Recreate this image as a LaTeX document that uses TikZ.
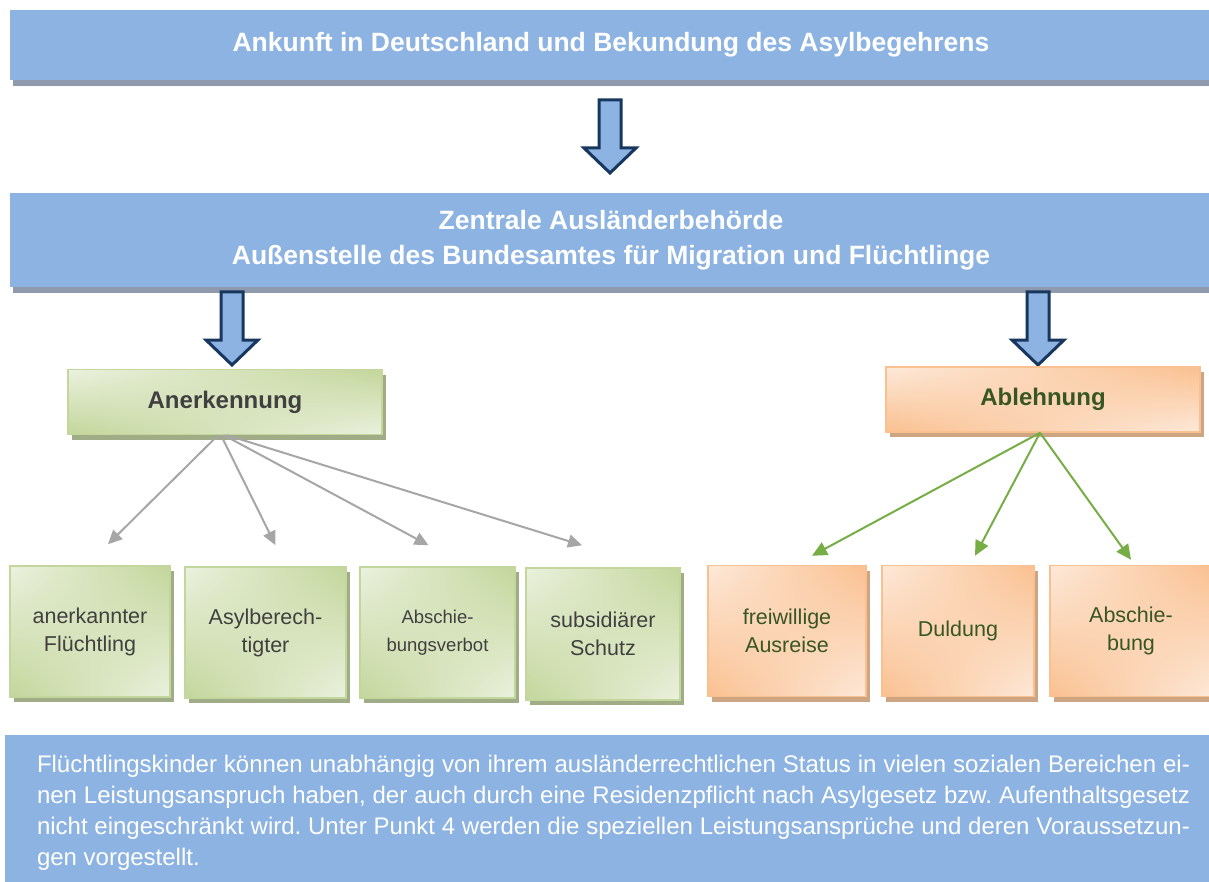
\documentclass[tikz,border=0pt]{standalone}
\usepackage{fontspec}
\setmainfont{Liberation Sans}
\usepackage{tikz}
\usetikzlibrary{arrows.meta, positioning, calc, shadows, shadings}
\definecolor{stageblue}{RGB}{141, 179, 226}
\definecolor{stageshadow}{RGB}{143, 155, 172}
\definecolor{arrownavy}{RGB}{23, 55, 94}
\definecolor{greenlight}{RGB}{235, 241, 222}
\definecolor{greendark}{RGB}{195, 214, 155}
\definecolor{greenshadow}{RGB}{160, 172, 134}
\definecolor{orangelight}{RGB}{253, 233, 217}
\definecolor{orangedark}{RGB}{250, 192, 144}
\definecolor{orangeshadow}{RGB}{205, 165, 130}
\definecolor{linkgray}{RGB}{166, 166, 166}
\definecolor{linkgreen}{RGB}{119, 173, 69}
\definecolor{textgreen}{RGB}{55, 86, 35}
\definecolor{textgray}{RGB}{64, 64, 64}
\frenchspacing

\begin{document}
\begin{tikzpicture}[
    x=1pt, y=-1pt,
    stage/.style={rectangle, fill=stageblue, text=white, font=\bfseries\fontsize{26.5}{35}\selectfont,
        align=center, inner sep=0pt,
        general shadow={fill=stageshadow, shadow xshift=3pt, shadow yshift=-6pt}},
    greenbox/.style={rectangle, draw=greendark, line width=1.5pt, inner sep=2pt, align=center,
        upper left=greenlight, upper right=greendark, lower left=greendark, lower right=greenlight,
        text=textgray, general shadow={fill=greenshadow, shadow xshift=4pt, shadow yshift=-5pt}},
    orangebox/.style={rectangle, draw=orangedark, line width=1.5pt, inner sep=2pt, align=center,
        upper left=orangelight, upper right=orangedark, lower left=orangedark, lower right=orangelight,
        text=textgreen, general shadow={fill=orangeshadow, shadow xshift=4pt, shadow yshift=-5pt}},
    decision/.style={minimum width=314pt, minimum height=65pt, font=\bfseries\fontsize{24}{28}\selectfont},
    outcome/.style={minimum height=131pt, font=\fontsize{21.5}{28}\selectfont},
    graylink/.style={draw=linkgray, line width=2pt, -{Triangle[length=14pt, width=13pt]}},
    greenlink/.style={draw=linkgreen, line width=2pt, -{Triangle[length=15pt, width=14pt]}},
    blockarrow/.pic={
        \draw[arrownavy, fill=stageblue, line width=3pt, miter limit=10]
            (-11,0) -- (11,0) -- (11,48) -- (26,48) -- (0,73) -- (-26,48) -- (-11,48) -- cycle;
    }
]
\useasboundingbox (0,0) rectangle (1209,882);

% stages
\node[stage, minimum width=1202pt, minimum height=70pt] (arrival) at (611,45)
    {Ankunft in Deutschland und Bekundung des Asylbegehrens};
\node[stage, minimum width=1202pt, minimum height=94pt] (office) at (611,240)
    {Zentrale Ausländerbehörde\\Außenstelle des Bundesamtes für Migration und Flüchtlinge};

\pic at (610,100) {blockarrow};
\pic at (232,292) {blockarrow};
\pic at (1038,292) {blockarrow};

% decisions
\node[greenbox, decision] (anerk) at (225,402) {Anerkennung};
\node[orangebox, decision] (ableh) at (1043,399.5) {Ablehnung};

% outcomes
\node[greenbox, outcome, minimum width=160pt] (fluecht) at (90,631.5) {anerkannter\\Flüchtling};
\node[greenbox, outcome, minimum width=161pt] (asyl) at (265.5,632.5) {Asylberech-\\tigter};
\node[greenbox, outcome, minimum width=155pt, font=\fontsize{18.5}{28}\selectfont] (verbot) at (437.5,632.5) {Abschie-\\bungsverbot};
\node[greenbox, outcome, minimum width=154pt, minimum height=132pt] (subsid) at (603,634) {subsidiärer\\Schutz};
\node[orangebox, outcome, minimum width=158pt] (ausreise) at (787,631) {freiwillige\\Ausreise};
\node[orangebox, outcome, minimum width=152pt] (duldung) at (958,631) {Duldung};
\node[orangebox, outcome, minimum width=162pt] (abschieb) at (1131,631) {Abschie-\\bung};

\draw[graylink] ($(anerk.south)+(-7,0)$) -- ($(fluecht.north)+(18,-21)$);
\draw[graylink] ($(anerk.south)+(-4,0)$) -- ($(asyl.north)+(10,-21)$);
\draw[graylink] ($(anerk.south)+(-1,0)$) -- ($(verbot.north)+(-9,-21)$);
\draw[graylink] ($(anerk.south)+(2,0)$) -- ($(subsid.north)+(-21,-22)$);

\draw[greenlink] ($(ableh.south)+(-3,0)$) -- ($(ausreise.north)+(25,-9)$);
\draw[greenlink] ($(ableh.south)+(-3,0)$) -- ($(duldung.north)+(17,-9)$);
\draw[greenlink] ($(ableh.south)+(-3,0)$) -- ($(abschieb.north)+(0,-5)$);

% note
\node[rectangle, fill=stageblue, minimum width=1206pt, minimum height=147pt, inner sep=0pt] (note) at (608,808.5) {};
\node[text=white, text width=1153pt, align=justify, inner sep=0pt, font=\fontsize{24}{31}\selectfont]
    (notetext) at (613.5,812.5) {Flüchtlingskinder können unabhängig von ihrem ausländerrechtlichen Status in vielen sozialen Bereichen ei-\linebreak nen Leistungsanspruch haben, der auch durch eine Residenzpflicht nach Asylgesetz bzw. Aufenthaltsgesetz\linebreak nicht eingeschränkt wird. Unter Punkt 4 werden die speziellen Leistungsansprüche und deren Voraussetzun-\linebreak gen vorgestellt.};
\end{tikzpicture}
\end{document}
